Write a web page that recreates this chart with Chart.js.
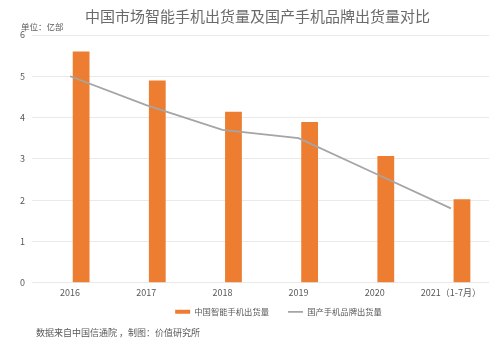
<!DOCTYPE html>
<html>
<head>
<meta charset="utf-8">
<script src="https://cdn.jsdelivr.net/npm/chart.js@4"></script>
<style>
  body { margin: 0; background: #fff; }
  #wrap { position: relative; width: 499px; height: 343px; }
  .note { position: absolute; font-family: "Noto Sans CJK SC", sans-serif; color: #595959; white-space: nowrap; }
  #title { left: 85px; top: 5px; font-size: 15px; color: #6a6a6a; }
  #unit { left: 21px; top: 20px; font-size: 8.5px; }
  #source { left: 36px; top: 326px; font-size: 9px; }
</style>
</head>
<body>
<div id="wrap">
  <canvas id="chart" width="499" height="343"></canvas>
  <div class="note" id="title">中国市场智能手机出货量及国产手机品牌出货量对比</div>
  <div class="note" id="unit">单位：亿部</div>
  <div class="note" id="source">数据来自中国信通院 ，制图：价值研究所</div>
</div>
<script>
const years = ["2016", "2017", "2018", "2019", "2020", "2021（1-7月）"];
const marketShipments = [5.6, 4.9, 4.14, 3.89, 3.07, 2.02];   // 中国智能手机出货量
const domesticShipments = [5.0, 4.3, 3.7, 3.5, 2.65, 1.8];    // 国产手机品牌出货量
const yTicksMax = 6;

const textColor = "#595959";
Chart.defaults.font.family = '"Noto Sans CJK SC", "Noto Sans", sans-serif';
Chart.defaults.color = textColor;

// the original legend sits right of centre and close under the axis labels
const legendShift = {
  id: "legendShift",
  afterLayout(chart) {
    const lg = chart.legend;
    lg.left += 34;
    lg.right += 34;
    lg.top -= 9;
    lg.bottom -= 9;
  }
};

new Chart(document.getElementById("chart"), {
  type: "bar",
  data: {
    labels: years,
    datasets: [
      // empty spacer so the orange bars sit right of the category centre, like the original
      { label: "spacer", data: years.map(() => null), categoryPercentage: 0.58, barPercentage: 0.76 },
      {
        label: "中国智能手机出货量",
        data: marketShipments,
        backgroundColor: "#ED7D31",
        categoryPercentage: 0.58,
        barPercentage: 0.76,
        pointStyle: "rect",
        order: 2
      },
      {
        type: "line",
        label: "国产手机品牌出货量",
        data: domesticShipments,
        borderColor: "#A5A5A5",
        backgroundColor: "#A5A5A5",
        borderWidth: 1.8,
        pointRadius: 0,
        pointStyle: "line",
        tension: 0,
        order: 1
      }
    ]
  },
  plugins: [legendShift],
  options: {
    responsive: false,
    animation: false,
    layout: { padding: { left: 0, right: 10, top: 35, bottom: 8 } },
    plugins: {
      legend: {
        position: "bottom",
        labels: {
          usePointStyle: true,
          pointStyleWidth: 15,
          boxHeight: 4,
          padding: 19,
          color: textColor,
          font: { size: 8.3 },
          filter: item => item.text !== "spacer",
          sort: (a, b) => a.datasetIndex - b.datasetIndex
        }
      },
      tooltip: { enabled: false }
    },
    scales: {
      x: {
        grid: { display: false, drawTicks: false },
        border: { display: false },
        ticks: { padding: 4, font: { size: 9 }, maxRotation: 0 },
        afterFit: scale => { scale.height = 15; }
      },
      y: {
        min: 0,
        max: yTicksMax,
        ticks: { stepSize: 1, padding: 7, font: { size: 9 } },
        grid: { color: "#e9e9e9", drawTicks: false },
        border: { display: false },
        afterFit: scale => { scale.width = 32; }
      }
    }
  }
});
</script>
</body>
</html>
